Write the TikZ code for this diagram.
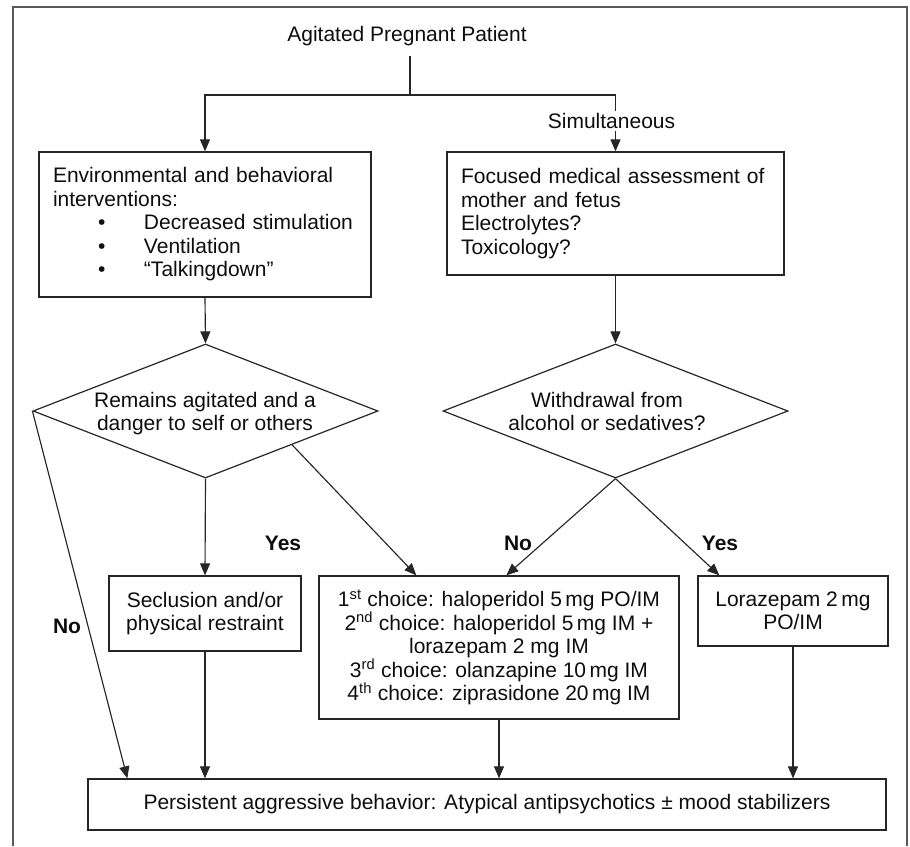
\documentclass[tikz,border=0pt]{standalone}
\usepackage{fontspec}
\setmainfont{Liberation Sans}
\usetikzlibrary{arrows.meta,shapes.geometric}
\newcommand{\blt}{\hspace*{45pt}\makebox[46pt][l]{•}}
\begin{document}
\begin{tikzpicture}[x=1pt,y=-1pt,
  every node/.style={font=\fontsize{21}{23.5}\selectfont, text=black!95},
  box/.style={draw=black!85, line width=1.3pt, rectangle, inner sep=0pt},
  dia/.style={diamond, draw=black!85, line width=1.2pt, inner sep=0pt, minimum width=345pt, minimum height=134pt},
  arr/.style={-{Triangle[length=12pt,width=10pt]}, line width=1.15pt, draw=black!85},
  ln/.style={line width=1.15pt, draw=black!85},
  lab/.style={font=\fontsize{21}{23.5}\selectfont\bfseries}]
\useasboundingbox (0,0) rectangle (910,846);
\draw[line width=2.2pt, draw=black!65] (13,846) -- (13,7) -- (907,7) -- (907,846);

\node[inner sep=10pt] (title) at (407,36) {Agitated Pregnant Patient};
\coordinate (split) at (410,95);

\node[box, minimum width=332pt, minimum height=145pt, text width=304pt, align=left] (env) at (205,224.5)
  {Environmental and behavioral\\interventions:\\\blt Decreased stimulation\\\blt Ventilation\\\blt “Talkingdown”};
\node[box, minimum width=337pt, minimum height=123pt, text width=309pt, align=left] (assess) at (615.5,213.5)
  {Focused medical assessment of\\mother and fetus\\Electrolytes?\\Toxicology?};

\node[dia] (dl) at (205.5,411) {};
\node[dia] (dr) at (615.5,411) {};
\node[align=center] (dltext) at (205,413.5) {Remains agitated and a\\danger to self or others};
\node[align=center] (drtext) at (607,411.5) {Withdrawal from\\alcohol or sedatives?};

\node[box, minimum width=192pt, minimum height=75pt, align=center] (secl) at (205,613.5)
  {Seclusion and/or\\physical restraint};
\node[box, minimum width=360pt, minimum height=143pt, align=center] (meds) at (499,647.5)
  {1\textsuperscript{st} choice: haloperidol 5\,mg PO/IM\\2\textsuperscript{nd} choice: haloperidol 5\,mg IM +\\lorazepam 2 mg IM\\3\textsuperscript{rd} choice: olanzapine 10\,mg IM\\4\textsuperscript{th} choice: ziprasidone 20\,mg IM};
\node[box, minimum width=190pt, minimum height=70pt, align=center] (lor) at (793,611)
  {Lorazepam 2\,mg\\PO/IM};
\node[box, minimum width=798pt, minimum height=51pt] (bot) at (487,804.5)
  {Persistent aggressive behavior: Atypical antipsychotics ± mood stabilizers};

\draw[ln] (title.south -| split) -- (split);
\draw[arr] (split) -| (env.north);
\draw[arr] (split) -| (assess.north);
\node[fill=white, inner sep=2pt] (simul) at (611.5,121) {Simultaneous};

\draw[arr] (env.south) -- (dl.north);
\draw[arr] (assess.south) -- (dr.north);
\draw[arr] (dl.south) -- (secl.north);
\draw[arr] (dl.south east) -- ([xshift=98pt]meds.north west);
\draw[arr] (dl.west) -- ([xshift=40pt]bot.north west);
\draw[arr] (dr.south) -- ([xshift=188pt]meds.north west);
\draw[arr] (dr.south) -- ([xshift=22pt]lor.north west);
\draw[arr] (secl.south) -- (secl.south |- bot.north);
\draw[arr] (meds.south) -- (meds.south |- bot.north);
\draw[arr] (lor.south) -- (lor.south |- bot.north);

\node[lab] (yesl) at (283,543) {Yes};
\node[lab] (nol) at (67,626) {No};
\node[lab] (nor) at (518,543) {No};
\node[lab] (yesr) at (720,543) {Yes};
\end{tikzpicture}
\end{document}
